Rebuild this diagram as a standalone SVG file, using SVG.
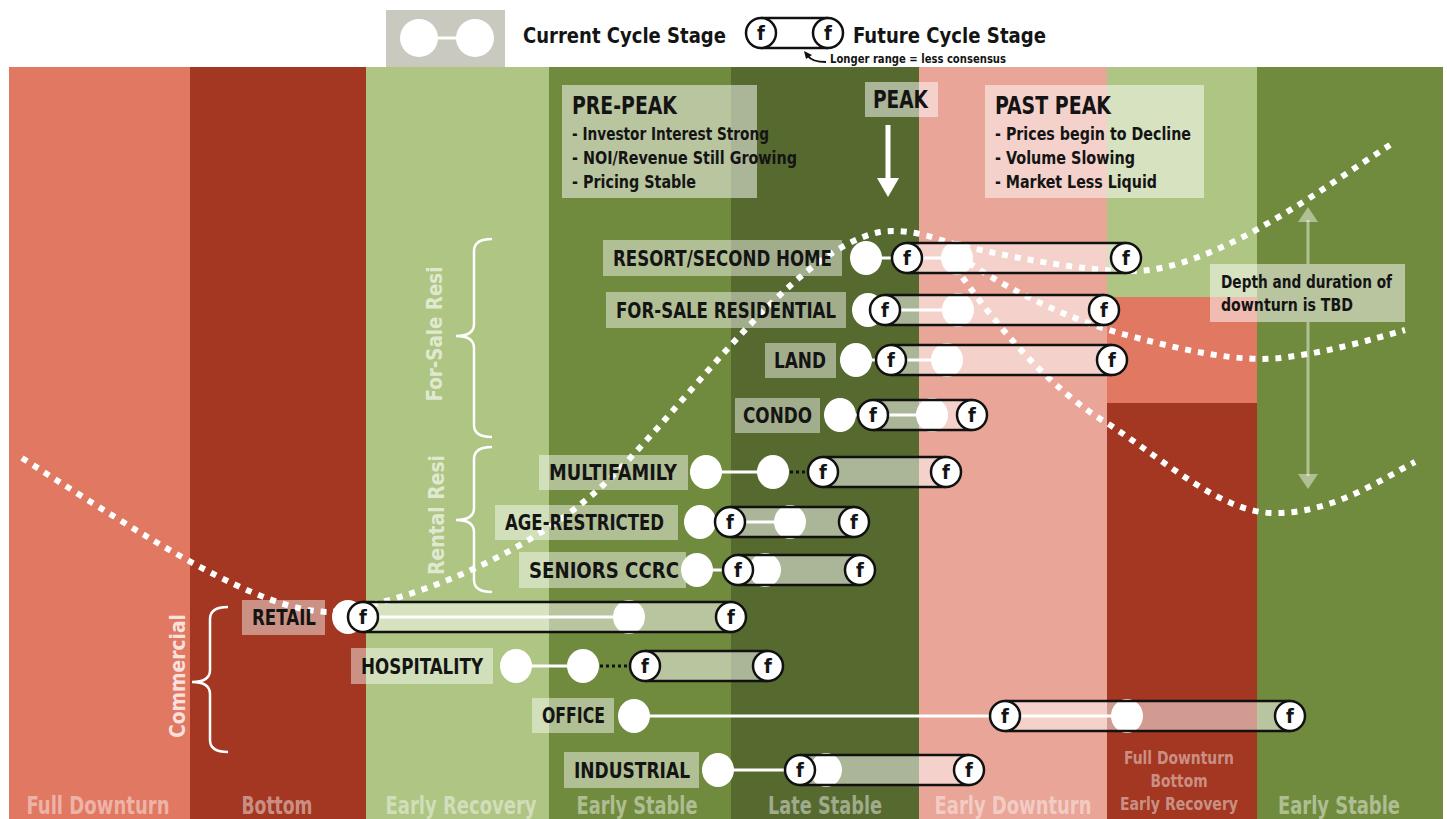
<svg xmlns="http://www.w3.org/2000/svg" width="1447" height="819" viewBox="0 0 1447 819">
<style>
.t{font-family:"DejaVu Sans Condensed","DejaVu Sans","Liberation Sans",sans-serif;font-stretch:condensed;font-weight:bold;fill:#141414}
.w{font-family:"DejaVu Sans Condensed","DejaVu Sans","Liberation Sans",sans-serif;font-stretch:condensed;font-weight:bold;fill:#fff}
.lbl{fill:#fff;fill-opacity:0.45}
.box{fill:#fff;fill-opacity:0.5}
.cur{fill:#fff}
.fc{fill:#fff;stroke:#111;stroke-width:2.5}
.body{fill:#fff;fill-opacity:0.5}
.edge{stroke:#111;stroke-width:2.5}
.link{stroke:#fff;stroke-width:3}
.blk{stroke:#111;stroke-width:3;stroke-dasharray:3 3}
.dot{fill:none;stroke:#fff;stroke-width:6;stroke-dasharray:6 7}
.ft{font-size:20px;text-anchor:middle}
.row{font-size:21px}
.bot{fill-opacity:0.45;font-size:25px;text-anchor:middle}
.brace{fill:none;stroke:#fff;stroke-width:2.5}
</style>
<rect width="1447" height="819" fill="#fff"/>
<g id="columns">
<rect x="9" y="67" width="181" height="752" fill="#e07862"/>
<rect x="190" y="67" width="176" height="752" fill="#a33722"/>
<rect x="366" y="67" width="183" height="752" fill="#aec583"/>
<rect x="549" y="67" width="182" height="752" fill="#718b3e"/>
<rect x="731" y="67" width="188" height="752" fill="#566a2f"/>
<rect x="919" y="67" width="188" height="752" fill="#e9a597"/>
<rect x="1107" y="67" width="150" height="230" fill="#aec583"/>
<rect x="1107" y="297" width="150" height="106" fill="#e07862"/>
<rect x="1107" y="403" width="150" height="416" fill="#a33722"/>
<rect x="1257" y="67" width="186" height="752" fill="#718b3e"/>
</g>
<g id="legend">
<rect x="386" y="10" width="119" height="57" fill="#c9c9bf"/>
<line x1="419" y1="38" x2="475" y2="38" stroke="#fff" stroke-width="3"/>
<ellipse cx="419" cy="38" rx="19" ry="19" fill="#fff"/>
<ellipse cx="475" cy="38" rx="19" ry="19" fill="#fff"/>
<text class="t" x="523" y="43" font-size="22" textLength="203" lengthAdjust="spacingAndGlyphs">Current Cycle Stage</text>
<rect x="761" y="18" width="67" height="30" fill="#fff"/>
<line class="edge" x1="761" y1="18" x2="828" y2="18"/>
<line class="edge" x1="761" y1="48" x2="828" y2="48"/>
<circle class="fc" cx="761" cy="33" r="15"/><text class="t ft" x="761" y="40">f</text>
<circle class="fc" cx="828" cy="33" r="15"/><text class="t ft" x="828" y="40">f</text>
<text class="t" x="853" y="43" font-size="22" textLength="193" lengthAdjust="spacingAndGlyphs">Future Cycle Stage</text>
<path d="M826,62 Q812,62 808,56" fill="none" stroke="#111" stroke-width="2"/>
<polygon points="804,51 812,55 806,59" fill="#111"/>
<text class="t" x="830" y="63" font-size="12" textLength="176" lengthAdjust="spacingAndGlyphs">Longer range = less consensus</text>
</g>
<g id="connectors">
<path class="dot" d="M22,458 C150,540 260,612 330,612 C400,605 520,560 600,488 C680,415 790,250 880,232 C905,228 930,236 950,243 C1030,262 1110,275 1150,270 C1230,258 1320,190 1390,145"/>
<path class="dot" d="M948,248 C990,280 1060,318 1130,336 C1190,352 1240,362 1280,358 C1330,352 1370,340 1405,330"/>
<path class="dot" d="M948,256 C990,320 1050,390 1110,425 C1170,465 1220,510 1270,513 C1330,515 1380,480 1415,462"/>
<line x1="888" y1="125" x2="888" y2="180" stroke="#fff" stroke-width="5"/>
<polygon points="877,178 899,178 888,197" fill="#fff"/>
<g stroke="#fff" stroke-opacity="0.45" stroke-width="3">
<line x1="1308" y1="220" x2="1308" y2="264"/>
<line x1="1308" y1="322" x2="1308" y2="476"/>
</g>
<polygon points="1308,207 1298,222 1318,222" fill="#fff" fill-opacity="0.45"/>
<polygon points="1308,489 1298,474 1318,474" fill="#fff" fill-opacity="0.45"/>
</g>
<g id="pre-peak">
<rect class="box" x="562" y="85" width="195" height="113"/>
<text class="t" x="572" y="114" font-size="25" textLength="105" lengthAdjust="spacingAndGlyphs">PRE-PEAK</text>
<text class="t" x="572" y="140" font-size="18" textLength="197" lengthAdjust="spacingAndGlyphs">- Investor Interest Strong</text>
<text class="t" x="572" y="164" font-size="18" textLength="225" lengthAdjust="spacingAndGlyphs">- NOI/Revenue Still Growing</text>
<text class="t" x="572" y="188" font-size="18" textLength="124" lengthAdjust="spacingAndGlyphs">- Pricing Stable</text>
</g>
<g id="peak">
<rect class="box" x="865" y="82" width="73" height="35"/>
<text class="t" x="873" y="108" font-size="25" textLength="55" lengthAdjust="spacingAndGlyphs">PEAK</text>
</g>
<g id="past-peak">
<rect class="box" x="985" y="85" width="219" height="113"/>
<text class="t" x="995" y="114" font-size="25" textLength="116" lengthAdjust="spacingAndGlyphs">PAST PEAK</text>
<text class="t" x="995" y="140" font-size="18" textLength="196" lengthAdjust="spacingAndGlyphs">- Prices begin to Decline</text>
<text class="t" x="995" y="164" font-size="18" textLength="140" lengthAdjust="spacingAndGlyphs">- Volume Slowing</text>
<text class="t" x="995" y="188" font-size="18" textLength="162" lengthAdjust="spacingAndGlyphs">- Market Less Liquid</text>
</g>
<g id="depth-note">
<rect class="box" x="1210" y="264" width="195" height="58" fill-opacity="0.4"/>
<text class="t" x="1221" y="288" font-size="17" textLength="171" lengthAdjust="spacingAndGlyphs">Depth and duration of</text>
<text class="t" x="1221" y="311" font-size="17" textLength="132" lengthAdjust="spacingAndGlyphs">downturn is TBD</text>
</g>
<g id="groups">
<path class="brace" d="M492,239 Q474,239 474,251 L474,324 Q474,336 456,336 Q474,336 474,348 L474,425 Q474,437 492,437"/>
<path class="brace" d="M492,447 Q474,447 474,459 L474,508 Q474,520 456,520 Q474,520 474,532 L474,580 Q474,592 492,592"/>
<path class="brace" d="M228,607 Q210,607 210,619 L210,670 Q210,682 192,682 Q210,682 210,694 L210,740 Q210,752 228,752"/>
<text class="w" transform="translate(442,334) rotate(-90)" font-size="21" fill-opacity="0.65" text-anchor="middle" textLength="135" lengthAdjust="spacingAndGlyphs">For-Sale Resi</text>
<text class="w" transform="translate(444,515) rotate(-90)" font-size="21" fill-opacity="0.65" text-anchor="middle" textLength="120" lengthAdjust="spacingAndGlyphs">Rental Resi</text>
<text class="w" transform="translate(185,676) rotate(-90)" font-size="21" fill-opacity="0.8" text-anchor="middle" textLength="124" lengthAdjust="spacingAndGlyphs">Commercial</text>
</g>
<g id="resort">
<rect class="lbl" x="603" y="240" width="239" height="36"/>
<text class="t row" x="613" y="266" textLength="219" lengthAdjust="spacingAndGlyphs">RESORT/SECOND HOME</text>
<rect class="body" x="907" y="243" width="219" height="30"/>
<line class="link" x1="866" y1="258" x2="957" y2="258"/>
<ellipse class="cur" cx="866" cy="258" rx="16" ry="17"/>
<ellipse class="cur" cx="957" cy="258" rx="16" ry="17"/>
<line class="edge" x1="907" y1="243" x2="1126" y2="243"/><line class="edge" x1="907" y1="273" x2="1126" y2="273"/>
<circle class="fc" cx="907" cy="258" r="15"/><text class="t ft" x="907" y="265">f</text>
<circle class="fc" cx="1126" cy="258" r="15"/><text class="t ft" x="1126" y="265">f</text>
</g>
<g id="for-sale-residential">
<rect class="lbl" x="606" y="292" width="240" height="36"/>
<text class="t row" x="616" y="318" textLength="220" lengthAdjust="spacingAndGlyphs">FOR-SALE RESIDENTIAL</text>
<rect class="body" x="885" y="295" width="219" height="30"/>
<line class="link" x1="868" y1="310" x2="958" y2="310"/>
<ellipse class="cur" cx="868" cy="310" rx="16" ry="17"/>
<ellipse class="cur" cx="958" cy="310" rx="16" ry="17"/>
<line class="edge" x1="885" y1="295" x2="1104" y2="295"/><line class="edge" x1="885" y1="325" x2="1104" y2="325"/>
<circle class="fc" cx="885" cy="310" r="15"/><text class="t ft" x="885" y="317">f</text>
<circle class="fc" cx="1104" cy="310" r="15"/><text class="t ft" x="1104" y="317">f</text>
</g>
<g id="land">
<rect class="lbl" x="765" y="343" width="71" height="35"/>
<text class="t row" x="774" y="368" textLength="52" lengthAdjust="spacingAndGlyphs">LAND</text>
<rect class="body" x="891" y="345" width="221" height="30"/>
<line class="link" x1="856" y1="360" x2="947" y2="360"/>
<ellipse class="cur" cx="856" cy="360" rx="16" ry="17"/>
<ellipse class="cur" cx="947" cy="360" rx="16" ry="17"/>
<line class="edge" x1="891" y1="345" x2="1112" y2="345"/><line class="edge" x1="891" y1="375" x2="1112" y2="375"/>
<circle class="fc" cx="891" cy="360" r="15"/><text class="t ft" x="891" y="367">f</text>
<circle class="fc" cx="1112" cy="360" r="15"/><text class="t ft" x="1112" y="367">f</text>
</g>
<g id="condo">
<rect class="lbl" x="735" y="398" width="85" height="35"/>
<text class="t row" x="743" y="423" textLength="69" lengthAdjust="spacingAndGlyphs">CONDO</text>
<rect class="body" x="873" y="400" width="99" height="30"/>
<line class="link" x1="840" y1="415" x2="932" y2="415"/>
<ellipse class="cur" cx="840" cy="415" rx="16" ry="17"/>
<ellipse class="cur" cx="932" cy="415" rx="16" ry="17"/>
<line class="edge" x1="873" y1="400" x2="972" y2="400"/><line class="edge" x1="873" y1="430" x2="972" y2="430"/>
<circle class="fc" cx="873" cy="415" r="15"/><text class="t ft" x="873" y="422">f</text>
<circle class="fc" cx="972" cy="415" r="15"/><text class="t ft" x="972" y="422">f</text>
</g>
<g id="multifamily">
<rect class="lbl" x="539" y="455" width="149" height="35"/>
<text class="t row" x="549" y="480" textLength="128" lengthAdjust="spacingAndGlyphs">MULTIFAMILY</text>
<rect class="body" x="823" y="457" width="123" height="30"/>
<line class="link" x1="706" y1="472" x2="773" y2="472"/>
<line class="blk" x1="790" y1="472" x2="810" y2="472"/>
<ellipse class="cur" cx="706" cy="472" rx="16" ry="17"/>
<ellipse class="cur" cx="773" cy="472" rx="16" ry="17"/>
<line class="edge" x1="823" y1="457" x2="946" y2="457"/><line class="edge" x1="823" y1="487" x2="946" y2="487"/>
<circle class="fc" cx="823" cy="472" r="15"/><text class="t ft" x="823" y="479">f</text>
<circle class="fc" cx="946" cy="472" r="15"/><text class="t ft" x="946" y="479">f</text>
</g>
<g id="age-restricted">
<rect class="lbl" x="495" y="505" width="183" height="35"/>
<text class="t row" x="505" y="530" textLength="159" lengthAdjust="spacingAndGlyphs">AGE-RESTRICTED</text>
<rect class="body" x="730" y="507" width="124" height="30"/>
<line class="link" x1="700" y1="522" x2="790" y2="522"/>
<ellipse class="cur" cx="700" cy="522" rx="16" ry="17"/>
<ellipse class="cur" cx="790" cy="522" rx="16" ry="17"/>
<line class="edge" x1="730" y1="507" x2="854" y2="507"/><line class="edge" x1="730" y1="537" x2="854" y2="537"/>
<circle class="fc" cx="730" cy="522" r="15"/><text class="t ft" x="730" y="529">f</text>
<circle class="fc" cx="854" cy="522" r="15"/><text class="t ft" x="854" y="529">f</text>
</g>
<g id="seniors-ccrc">
<rect class="lbl" x="519" y="552" width="167" height="36"/>
<text class="t row" x="529" y="578" textLength="150" lengthAdjust="spacingAndGlyphs">SENIORS CCRC</text>
<rect class="body" x="738" y="555" width="122" height="30"/>
<line class="link" x1="697" y1="570" x2="765" y2="570"/>
<ellipse class="cur" cx="697" cy="570" rx="16" ry="17"/>
<ellipse class="cur" cx="765" cy="570" rx="16" ry="17"/>
<line class="edge" x1="738" y1="555" x2="860" y2="555"/><line class="edge" x1="738" y1="585" x2="860" y2="585"/>
<circle class="fc" cx="738" cy="570" r="15"/><text class="t ft" x="738" y="577">f</text>
<circle class="fc" cx="860" cy="570" r="15"/><text class="t ft" x="860" y="577">f</text>
</g>
<g id="retail">
<rect class="lbl" x="242" y="600" width="83" height="35"/>
<text class="t row" x="252" y="625" textLength="64" lengthAdjust="spacingAndGlyphs">RETAIL</text>
<rect class="body" x="363" y="602" width="368" height="30"/>
<line class="link" x1="348" y1="617" x2="629" y2="617"/>
<ellipse class="cur" cx="348" cy="617" rx="16" ry="17"/>
<ellipse class="cur" cx="629" cy="617" rx="16" ry="17"/>
<line class="edge" x1="363" y1="602" x2="731" y2="602"/><line class="edge" x1="363" y1="632" x2="731" y2="632"/>
<circle class="fc" cx="363" cy="617" r="15"/><text class="t ft" x="363" y="624">f</text>
<circle class="fc" cx="731" cy="617" r="15"/><text class="t ft" x="731" y="624">f</text>
</g>
<g id="hospitality">
<rect class="lbl" x="351" y="648" width="142" height="36"/>
<text class="t row" x="361" y="674" textLength="122" lengthAdjust="spacingAndGlyphs">HOSPITALITY</text>
<rect class="body" x="645" y="651" width="123" height="30"/>
<line class="link" x1="516" y1="666" x2="583" y2="666"/>
<line class="blk" x1="600" y1="666" x2="631" y2="666"/>
<ellipse class="cur" cx="516" cy="666" rx="16" ry="17"/>
<ellipse class="cur" cx="583" cy="666" rx="16" ry="17"/>
<line class="edge" x1="645" y1="651" x2="768" y2="651"/><line class="edge" x1="645" y1="681" x2="768" y2="681"/>
<circle class="fc" cx="645" cy="666" r="15"/><text class="t ft" x="645" y="673">f</text>
<circle class="fc" cx="768" cy="666" r="15"/><text class="t ft" x="768" y="673">f</text>
</g>
<g id="office">
<rect class="lbl" x="532" y="698" width="82" height="35"/>
<text class="t row" x="542" y="723" textLength="63" lengthAdjust="spacingAndGlyphs">OFFICE</text>
<rect class="body" x="1005" y="701" width="285" height="30"/>
<line class="link" x1="634" y1="716" x2="1127" y2="716"/>
<ellipse class="cur" cx="634" cy="716" rx="16" ry="17"/>
<ellipse class="cur" cx="1127" cy="716" rx="16" ry="17"/>
<line class="edge" x1="1005" y1="701" x2="1290" y2="701"/><line class="edge" x1="1005" y1="731" x2="1290" y2="731"/>
<circle class="fc" cx="1005" cy="716" r="15"/><text class="t ft" x="1005" y="723">f</text>
<circle class="fc" cx="1290" cy="716" r="15"/><text class="t ft" x="1290" y="723">f</text>
</g>
<g id="industrial">
<rect class="lbl" x="564" y="752" width="135" height="36"/>
<text class="t row" x="574" y="778" textLength="116" lengthAdjust="spacingAndGlyphs">INDUSTRIAL</text>
<rect class="body" x="800" y="755" width="169" height="30"/>
<line class="link" x1="718" y1="770" x2="826" y2="770"/>
<ellipse class="cur" cx="718" cy="770" rx="16" ry="17"/>
<ellipse class="cur" cx="826" cy="770" rx="16" ry="17"/>
<line class="edge" x1="800" y1="755" x2="969" y2="755"/><line class="edge" x1="800" y1="785" x2="969" y2="785"/>
<circle class="fc" cx="800" cy="770" r="15"/><text class="t ft" x="800" y="777">f</text>
<circle class="fc" cx="969" cy="770" r="15"/><text class="t ft" x="969" y="777">f</text>
</g>
<g id="stage-labels">
<text class="w bot" x="98" y="814" textLength="143" lengthAdjust="spacingAndGlyphs">Full Downturn</text>
<text class="w bot" x="277" y="814" textLength="71" lengthAdjust="spacingAndGlyphs">Bottom</text>
<text class="w bot" x="461" y="814" textLength="151" lengthAdjust="spacingAndGlyphs">Early Recovery</text>
<text class="w bot" x="637" y="814" textLength="121" lengthAdjust="spacingAndGlyphs">Early Stable</text>
<text class="w bot" x="825" y="814" textLength="114" lengthAdjust="spacingAndGlyphs">Late Stable</text>
<text class="w bot" x="1013" y="814" textLength="157" lengthAdjust="spacingAndGlyphs">Early Downturn</text>
<text class="w bot" x="1179" y="764" style="font-size:18px" textLength="110" lengthAdjust="spacingAndGlyphs">Full Downturn</text>
<text class="w bot" x="1179" y="787" style="font-size:18px" textLength="57" lengthAdjust="spacingAndGlyphs">Bottom</text>
<text class="w bot" x="1179" y="810" style="font-size:18px" textLength="118" lengthAdjust="spacingAndGlyphs">Early Recovery</text>
<text class="w bot" x="1339" y="814" textLength="122" lengthAdjust="spacingAndGlyphs">Early Stable</text>
</g>
</svg>
